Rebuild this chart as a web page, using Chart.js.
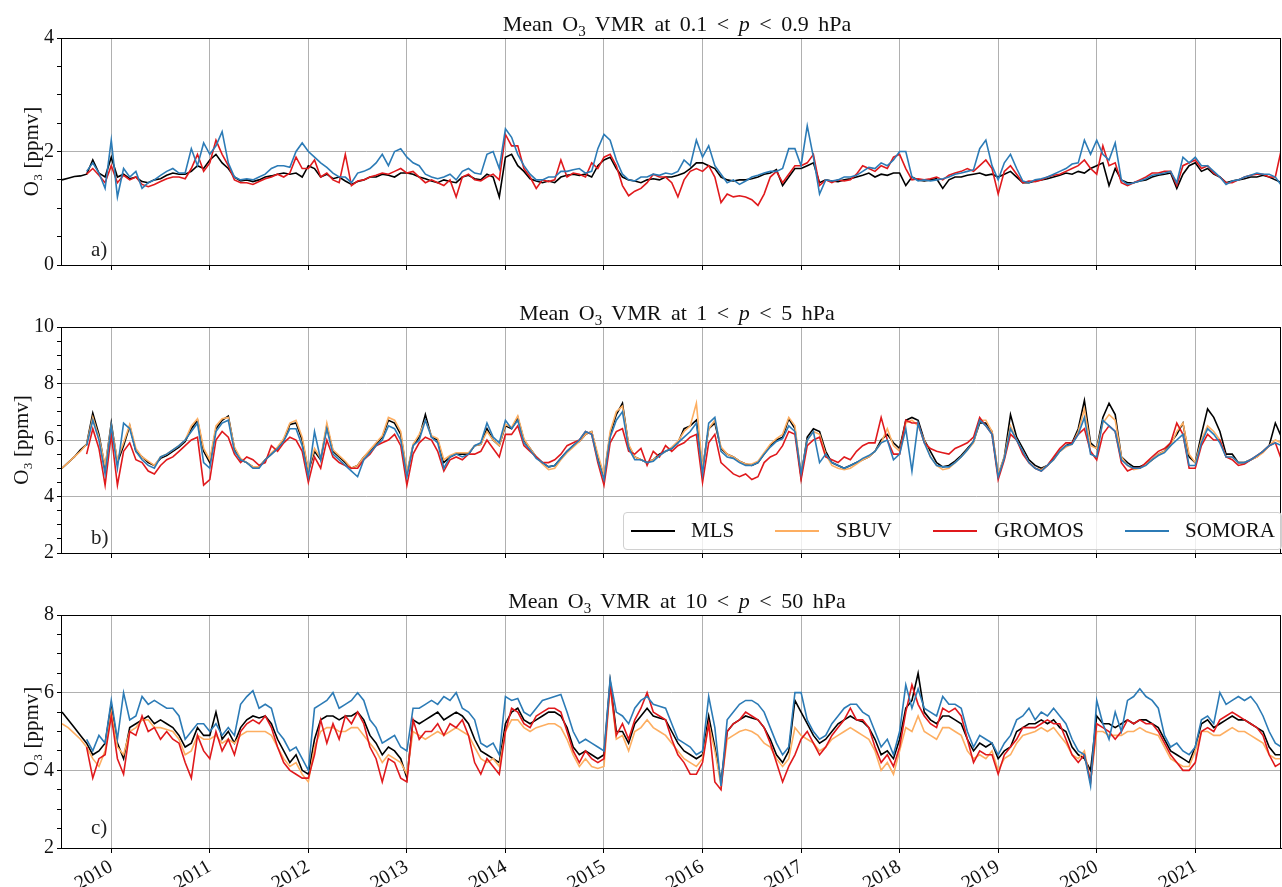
<!DOCTYPE html>
<html lang="en">
<head>
<meta charset="UTF-8" />
<title>Mean O3 VMR</title>
<script src="https://cdn.jsdelivr.net/npm/chart.js"></script>
<style>
  body { margin:0; background:#fff; width:1282px; height:887px; position:relative; overflow:hidden; font-family:'Liberation Serif', serif; color:#111; }
  .panel { position:absolute; left:0; width:1282px; }
  .title { position:absolute; left:61px; width:1232px; text-align:center; font-size:22px; line-height:24px; word-spacing:4px; z-index:2; }
  .letter { position:absolute; left:91px; font-size:21px; line-height:24px; color:#222; z-index:2; }
  #legend { position:absolute; left:623px; top:512px; width:657px; height:36px; border:1px solid #d0d0d0; border-radius:4px; background:rgba(255,255,255,0.8); z-index:3; font-size:21px; }
  #legend .ln { position:absolute; top:17px; width:44px; height:2px; }
  #legend .tx { position:absolute; top:5px; line-height:24px; }
</style>
</head>
<body>
  <div class="panel" style="top:23px;height:257px"><canvas id="chartA" width="1282" height="257"></canvas></div>
  <div class="panel" style="top:312px;height:256px"><canvas id="chartB" width="1282" height="256"></canvas></div>
  <div class="panel" style="top:600px;height:287px"><canvas id="chartC" width="1282" height="287"></canvas></div>

  <div class="title" style="top:12px">Mean O<sub style="font-size:15px">3</sub> VMR at 0.1 &lt; <i>p</i> &lt; 0.9 hPa</div>
  <div class="title" style="top:301px">Mean O<sub style="font-size:15px">3</sub> VMR at 1 &lt; <i>p</i> &lt; 5 hPa</div>
  <div class="title" style="top:589px">Mean O<sub style="font-size:15px">3</sub> VMR at 10 &lt; <i>p</i> &lt; 50 hPa</div>

  <div class="letter" style="top:237px">a)</div>
  <div class="letter" style="top:525px">b)</div>
  <div class="letter" style="top:815px">c)</div>

  <div id="legend">
    <span class="ln" style="left:7px;background:#000"></span><span class="tx" style="left:67px">MLS</span>
    <span class="ln" style="left:151px;background:#fdae61"></span><span class="tx" style="left:212px">SBUV</span>
    <span class="ln" style="left:309px;background:#e0191c"></span><span class="tx" style="left:370px">GROMOS</span>
    <span class="ln" style="left:501px;background:#2c7bb6"></span><span class="tx" style="left:561px">SOMORA</span>
  </div>

<script>
// sampling: every 1/16 year from mid 2009 (one row per year)
const startYear = 2009.5;
const stepYears = 1 / 16;
const yearTicks = [2010, 2011, 2012, 2013, 2014, 2015, 2016, 2017, 2018, 2019, 2020, 2021];

// a) 0.1 < p < 0.9 hPa
const aMLS = [
  1.50, 1.53, 1.56, 1.57, 1.60, 1.85, 1.62, 1.55,
  1.90, 1.55, 1.60, 1.52, 1.55, 1.47, 1.45, 1.50, 1.52, 1.58, 1.62, 1.60, 1.60, 1.65, 1.75, 1.70,
  1.85, 1.95, 1.80, 1.70, 1.55, 1.48, 1.50, 1.47, 1.50, 1.55, 1.57, 1.60, 1.62, 1.60, 1.62, 1.55,
  1.75, 1.70, 1.55, 1.60, 1.52, 1.55, 1.48, 1.42, 1.47, 1.50, 1.55, 1.55, 1.60, 1.58, 1.55, 1.62,
  1.62, 1.60, 1.55, 1.52, 1.48, 1.45, 1.50, 1.47, 1.45, 1.55, 1.58, 1.52, 1.50, 1.60, 1.55, 1.20,
  1.90, 1.95, 1.75, 1.65, 1.52, 1.48, 1.45, 1.48, 1.45, 1.55, 1.58, 1.60, 1.58, 1.60, 1.55, 1.75,
  1.85, 1.90, 1.70, 1.55, 1.50, 1.48, 1.45, 1.50, 1.52, 1.50, 1.55, 1.55, 1.58, 1.62, 1.70, 1.80,
  1.80, 1.75, 1.70, 1.55, 1.50, 1.48, 1.50, 1.50, 1.52, 1.55, 1.60, 1.62, 1.68, 1.40, 1.55, 1.70,
  1.70, 1.75, 1.80, 1.45, 1.50, 1.48, 1.47, 1.50, 1.52, 1.55, 1.58, 1.62, 1.55, 1.60, 1.58, 1.62,
  1.62, 1.40, 1.55, 1.50, 1.48, 1.50, 1.52, 1.35, 1.50, 1.55, 1.55, 1.58, 1.60, 1.62, 1.58, 1.60,
  1.55, 1.60, 1.65, 1.55, 1.45, 1.45, 1.48, 1.50, 1.52, 1.55, 1.58, 1.62, 1.60, 1.65, 1.62, 1.70,
  1.75, 1.80, 1.40, 1.70, 1.50, 1.45, 1.45, 1.48, 1.50, 1.55, 1.58, 1.60, 1.62, 1.35, 1.60, 1.75,
  1.80, 1.65, 1.70, 1.60, 1.55, 1.45, 1.48, 1.50, 1.52, 1.55, 1.55, 1.58, 1.55, 1.50, 1.45
];
const aGROMOS = [
  null, null, null, null, 1.60, 1.70, 1.58, 1.45,
  1.75, 1.45, 1.58, 1.50, 1.55, 1.42, 1.38, 1.42, 1.47, 1.52, 1.55, 1.55, 1.52, 1.70, 1.95, 1.65,
  1.80, 2.20, 1.95, 1.75, 1.50, 1.45, 1.45, 1.42, 1.47, 1.52, 1.55, 1.60, 1.55, 1.62, 1.90, 1.70,
  1.70, 1.85, 1.55, 1.62, 1.50, 1.45, 1.95, 1.40, 1.48, 1.50, 1.55, 1.58, 1.62, 1.60, 1.65, 1.70,
  1.62, 1.65, 1.55, 1.45, 1.50, 1.45, 1.40, 1.50, 1.20, 1.55, 1.60, 1.50, 1.48, 1.55, 1.60, 1.50,
  2.30, 2.10, 2.10, 1.70, 1.55, 1.35, 1.50, 1.47, 1.50, 1.85, 1.55, 1.62, 1.60, 1.55, 1.80, 1.70,
  1.90, 1.95, 1.75, 1.40, 1.22, 1.30, 1.35, 1.45, 1.60, 1.55, 1.55, 1.45, 1.20, 1.50, 1.65, 1.70,
  1.65, 1.75, 1.55, 1.10, 1.25, 1.20, 1.22, 1.20, 1.15, 1.05, 1.25, 1.55, 1.65, 1.45, 1.60, 1.75,
  1.75, 1.80, 1.95, 1.40, 1.50, 1.45, 1.50, 1.48, 1.50, 1.60, 1.75, 1.70, 1.65, 1.75, 1.70, 1.90,
  1.95, 1.70, 1.50, 1.52, 1.50, 1.52, 1.55, 1.50, 1.58, 1.62, 1.65, 1.70, 1.65, 1.75, 1.85, 1.70,
  1.25, 1.65, 1.75, 1.60, 1.45, 1.48, 1.47, 1.50, 1.55, 1.58, 1.60, 1.65, 1.70, 1.75, 1.85, 1.70,
  1.60, 2.10, 1.75, 1.80, 1.45, 1.40, 1.45, 1.50, 1.55, 1.62, 1.62, 1.65, 1.65, 1.40, 1.75, 1.80,
  1.85, 1.70, 1.75, 1.62, 1.55, 1.45, 1.45, 1.50, 1.55, 1.58, 1.60, 1.60, 1.55, 1.55, 2.05
];
const aSOMORA = [
  null, null, null, null, 1.65, 1.80, 1.62, 1.35,
  2.20, 1.20, 1.70, 1.55, 1.65, 1.35, 1.45, 1.50, 1.58, 1.65, 1.70, 1.62, 1.62, 2.05, 1.75, 2.15,
  1.95, 2.10, 2.35, 1.80, 1.55, 1.50, 1.52, 1.50, 1.55, 1.60, 1.70, 1.75, 1.75, 1.72, 2.00, 2.15,
  2.00, 1.90, 1.80, 1.72, 1.62, 1.55, 1.55, 1.45, 1.62, 1.65, 1.70, 1.80, 1.95, 1.75, 2.00, 2.05,
  1.90, 1.80, 1.75, 1.60, 1.55, 1.52, 1.55, 1.60, 1.50, 1.65, 1.70, 1.62, 1.60, 1.95, 2.00, 1.70,
  2.40, 2.25, 1.95, 1.75, 1.60, 1.50, 1.50, 1.55, 1.55, 1.65, 1.65, 1.68, 1.70, 1.62, 1.65, 2.05,
  2.30, 2.20, 1.85, 1.60, 1.50, 1.48, 1.55, 1.55, 1.60, 1.58, 1.62, 1.60, 1.65, 1.85, 1.75, 2.20,
  1.90, 2.10, 1.75, 1.60, 1.45, 1.50, 1.42, 1.48, 1.55, 1.58, 1.62, 1.65, 1.65, 1.70, 2.05, 2.05,
  1.75, 2.45, 1.90, 1.25, 1.50, 1.48, 1.50, 1.55, 1.55, 1.58, 1.65, 1.72, 1.70, 1.80, 1.75, 1.85,
  2.00, 2.00, 1.55, 1.48, 1.50, 1.48, 1.50, 1.52, 1.55, 1.60, 1.62, 1.65, 1.68, 2.05, 2.20, 1.75,
  1.50, 1.80, 1.95, 1.70, 1.48, 1.45, 1.50, 1.52, 1.55, 1.60, 1.65, 1.70, 1.78, 1.80, 2.20, 1.95,
  2.20, 1.95, 1.85, 2.15, 1.50, 1.42, 1.45, 1.48, 1.52, 1.58, 1.60, 1.62, 1.65, 1.45, 1.90, 1.80,
  1.90, 1.75, 1.75, 1.65, 1.55, 1.42, 1.48, 1.50, 1.55, 1.58, 1.62, 1.60, 1.60, 1.55, 1.40
];

// b) 1 < p < 5 hPa
const bMLS = [
  5.00, 5.20, 5.40, 5.65, 5.85, 6.95, 6.20, 5.00,
  6.60, 5.20, 5.80, 6.50, 5.60, 5.40, 5.20, 5.10, 5.35, 5.45, 5.60, 5.75, 5.95, 6.40, 6.70, 5.60,
  5.20, 6.40, 6.70, 6.85, 5.70, 5.30, 5.20, 5.05, 5.05, 5.30, 5.50, 5.70, 6.00, 6.55, 6.60, 6.00,
  4.90, 5.60, 5.30, 6.50, 5.60, 5.40, 5.20, 5.00, 5.10, 5.40, 5.60, 5.85, 6.10, 6.70, 6.60, 6.20,
  4.80, 5.80, 6.10, 6.90, 6.10, 6.00, 5.20, 5.40, 5.50, 5.50, 5.50, 5.80, 5.85, 6.40, 6.00, 5.80,
  6.50, 6.40, 6.80, 6.00, 5.70, 5.40, 5.20, 5.05, 5.10, 5.35, 5.60, 5.80, 5.95, 6.20, 6.30, 5.40,
  4.70, 6.20, 6.90, 7.30, 5.80, 5.40, 5.30, 5.20, 5.30, 5.50, 5.60, 5.70, 5.90, 6.40, 6.50, 6.70,
  5.00, 6.40, 6.60, 5.70, 5.50, 5.40, 5.25, 5.15, 5.10, 5.20, 5.50, 5.80, 6.00, 6.10, 6.75, 6.40,
  4.70, 6.10, 6.40, 6.30, 5.60, 5.20, 5.10, 5.00, 5.10, 5.20, 5.30, 5.40, 5.60, 6.00, 6.20, 5.90,
  5.70, 6.70, 6.80, 6.70, 6.00, 5.60, 5.20, 5.05, 5.10, 5.25, 5.45, 5.70, 5.95, 6.60, 6.60, 6.30,
  4.75, 5.40, 6.90, 6.10, 5.70, 5.30, 5.10, 5.00, 5.10, 5.35, 5.60, 5.80, 5.90, 6.40, 7.40, 5.90,
  5.70, 6.80, 7.30, 6.90, 5.40, 5.20, 5.05, 5.05, 5.15, 5.30, 5.50, 5.60, 5.90, 6.20, 6.60, 5.40,
  5.20, 6.20, 7.10, 6.80, 6.30, 5.50, 5.50, 5.20, 5.20, 5.30, 5.40, 5.60, 5.80, 6.60, 6.10
];
const bSBUV = [
  5.00, 5.20, 5.40, 5.60, 5.85, 6.80, 6.10, 5.10,
  6.50, 5.30, 5.90, 6.55, 5.70, 5.40, 5.25, 5.10, 5.40, 5.50, 5.65, 5.80, 6.00, 6.50, 6.75, 5.70,
  5.30, 6.50, 6.75, 6.80, 5.75, 5.35, 5.20, 5.05, 5.05, 5.30, 5.55, 5.75, 6.05, 6.60, 6.70, 6.10,
  4.95, 5.70, 5.35, 6.60, 5.65, 5.45, 5.25, 5.00, 5.10, 5.40, 5.65, 5.90, 6.15, 6.80, 6.70, 6.30,
  4.85, 5.85, 6.20, 6.70, 6.15, 6.05, 5.30, 5.45, 5.55, 5.55, 5.55, 5.80, 5.85, 6.30, 6.00, 5.80,
  6.55, 6.45, 6.85, 6.05, 5.70, 5.40, 5.15, 4.95, 5.00, 5.30, 5.55, 5.75, 5.95, 6.20, 6.30, 5.50,
  4.75, 6.30, 7.00, 7.20, 5.85, 5.40, 5.30, 5.20, 5.30, 5.45, 5.60, 5.75, 5.95, 6.30, 6.50, 7.30,
  5.00, 6.40, 6.70, 5.75, 5.50, 5.40, 5.25, 5.15, 5.15, 5.25, 5.55, 5.85, 6.05, 6.20, 6.80, 6.50,
  4.75, 6.00, 6.30, 6.20, 5.50, 5.10, 5.00, 4.95, 5.00, 5.15, 5.30, 5.40, 5.60, 5.90, 6.40, 5.80,
  5.60, 6.60, 6.70, 6.50, 6.00, 5.40, 5.10, 4.95, 5.00, 5.20, 5.40, 5.65, 5.90, 6.70, 6.70, 6.30,
  4.80, 5.40, 6.50, 6.00, 5.60, 5.20, 5.00, 4.95, 5.10, 5.30, 5.60, 5.75, 5.85, 6.30, 7.10, 5.80,
  5.70, 6.60, 6.90, 6.70, 5.40, 5.10, 4.95, 5.00, 5.15, 5.30, 5.50, 5.60, 5.80, 6.30, 6.60, 5.50,
  5.20, 6.00, 6.50, 6.30, 6.00, 5.40, 5.40, 5.20, 5.20, 5.30, 5.40, 5.55, 5.80, 6.00, 5.90
];
const bGROMOS = [
  null, null, null, null, 5.50, 6.40, 5.70, 4.40,
  6.20, 4.40, 5.60, 5.90, 5.30, 5.20, 4.90, 4.80, 5.10, 5.30, 5.40, 5.60, 5.80, 6.00, 6.10, 4.40,
  4.60, 6.00, 6.30, 6.10, 5.50, 5.20, 5.40, 5.30, 5.10, 5.20, 5.80, 5.60, 5.90, 6.10, 6.00, 5.60,
  4.50, 5.40, 5.00, 6.00, 5.40, 5.20, 5.10, 5.00, 5.00, 5.30, 5.50, 5.80, 5.90, 6.00, 6.20, 5.80,
  4.40, 5.50, 5.90, 6.10, 6.00, 5.60, 4.90, 5.30, 5.40, 5.30, 5.50, 5.50, 5.60, 6.00, 5.70, 5.40,
  6.20, 6.20, 6.50, 5.80, 5.60, 5.40, 5.20, 5.20, 5.30, 5.50, 5.80, 5.90, 6.00, 6.30, 6.20, 5.20,
  4.40, 5.90, 6.30, 6.40, 5.60, 5.50, 5.70, 5.10, 5.60, 5.40, 5.80, 5.60, 5.80, 5.90, 6.10, 6.20,
  4.50, 5.90, 6.20, 5.20, 5.00, 4.80, 4.70, 4.80, 4.60, 4.70, 5.20, 5.40, 5.50, 5.80, 6.30, 6.20,
  4.60, 5.80, 6.00, 6.10, 5.40, 5.30, 5.20, 5.40, 5.30, 5.60, 5.80, 5.90, 5.90, 6.80, 6.00, 5.50,
  5.50, 6.70, 6.60, 6.60, 5.90, 5.70, 5.60, 5.55, 5.50, 5.70, 5.80, 5.90, 6.10, 6.80, 6.50, 6.20,
  4.60, 5.30, 6.20, 6.00, 5.50, 5.20, 5.00, 4.90, 5.10, 5.40, 5.70, 5.90, 5.90, 6.20, 6.40, 5.60,
  5.30, 6.20, 6.50, 6.30, 5.20, 4.90, 5.00, 5.00, 5.20, 5.40, 5.60, 5.70, 5.90, 6.60, 6.20, 5.00,
  5.00, 5.80, 6.20, 6.00, 6.00, 5.40, 5.30, 5.10, 5.15, 5.30, 5.45, 5.60, 5.80, 5.90, 5.30
];
const bSOMORA = [
  null, null, null, null, 5.80, 6.70, 6.00, 4.80,
  6.50, 5.00, 6.60, 6.40, 5.60, 5.30, 5.10, 5.00, 5.40, 5.50, 5.65, 5.80, 6.00, 6.30, 6.60, 5.20,
  5.00, 6.30, 6.60, 6.70, 5.60, 5.30, 5.20, 5.00, 5.00, 5.30, 5.50, 5.70, 5.95, 6.40, 6.40, 5.80,
  4.70, 6.30, 5.30, 6.40, 5.50, 5.30, 5.10, 4.90, 4.70, 5.30, 5.55, 5.80, 6.00, 6.50, 6.40, 6.00,
  4.70, 5.80, 6.00, 6.70, 6.10, 5.90, 5.00, 5.40, 5.50, 5.40, 5.50, 5.80, 5.90, 6.60, 6.10, 5.90,
  6.70, 6.40, 6.70, 5.90, 5.65, 5.35, 5.20, 5.05, 5.10, 5.35, 5.60, 5.80, 6.00, 6.30, 6.20, 5.30,
  4.60, 6.10, 6.70, 7.00, 5.70, 5.30, 5.30, 5.20, 5.25, 5.45, 5.60, 5.70, 5.90, 6.10, 6.30, 6.60,
  4.80, 6.60, 6.80, 5.60, 5.40, 5.35, 5.20, 5.10, 5.10, 5.20, 5.50, 5.75, 5.95, 6.05, 6.50, 6.30,
  4.80, 6.00, 6.30, 5.20, 5.50, 5.20, 5.10, 5.00, 5.10, 5.20, 5.35, 5.45, 5.60, 5.90, 6.00, 5.30,
  5.50, 6.40, 4.90, 6.60, 5.90, 5.40, 5.10, 5.05, 5.05, 5.20, 5.40, 5.65, 5.95, 6.70, 6.50, 6.20,
  4.70, 5.35, 6.40, 6.00, 5.60, 5.20, 5.00, 4.90, 5.10, 5.30, 5.60, 5.80, 5.85, 6.20, 6.80, 5.50,
  5.40, 6.70, 6.50, 6.30, 5.30, 5.10, 5.00, 5.00, 5.10, 5.30, 5.45, 5.55, 5.80, 6.00, 6.20, 5.10,
  5.10, 5.90, 6.40, 6.20, 5.90, 5.40, 5.40, 5.20, 5.20, 5.30, 5.45, 5.60, 5.80, 5.90, 5.80
];

// c) 10 < p < 50 hPa
const cMLS = [
  5.50, 5.30, 5.10, 4.90, 4.70, 4.40, 4.50, 4.70,
  5.70, 4.70, 4.30, 5.10, 5.20, 5.30, 5.40, 5.20, 5.30, 5.20, 5.10, 4.90, 4.60, 4.70, 5.10, 4.90,
  4.90, 5.50, 4.80, 5.00, 4.70, 5.10, 5.30, 5.40, 5.35, 5.40, 5.20, 4.80, 4.50, 4.20, 4.40, 4.00,
  3.90, 4.80, 5.30, 5.40, 5.40, 5.30, 5.40, 5.40, 5.50, 5.30, 4.90, 4.70, 4.40, 4.60, 4.50, 4.30,
  3.80, 5.30, 5.20, 5.30, 5.40, 5.50, 5.30, 5.40, 5.50, 5.40, 5.20, 4.80, 4.50, 4.40, 4.30, 4.20,
  5.20, 5.50, 5.60, 5.30, 5.20, 5.30, 5.40, 5.50, 5.50, 5.40, 5.10, 4.60, 4.40, 4.50, 4.40, 4.30,
  4.40, 6.30, 5.00, 5.00, 4.70, 5.20, 5.40, 5.60, 5.40, 5.35, 5.30, 5.00, 4.70, 4.50, 4.40, 4.30,
  4.40, 5.40, 4.60, 3.70, 5.00, 5.20, 5.30, 5.40, 5.35, 5.30, 5.10, 4.80, 4.40, 4.20, 4.50, 5.80,
  5.50, 5.20, 4.90, 4.70, 4.80, 5.00, 5.20, 5.30, 5.40, 5.30, 5.25, 5.10, 4.80, 4.40, 4.50, 4.30,
  4.80, 5.60, 5.80, 6.50, 5.50, 5.30, 5.20, 5.40, 5.40, 5.30, 5.20, 4.80, 4.50, 4.70, 4.60, 4.70,
  4.30, 4.50, 4.60, 5.00, 5.10, 5.20, 5.20, 5.30, 5.20, 5.30, 5.10, 5.00, 4.60, 4.40, 4.30, 4.00,
  5.40, 5.20, 5.20, 5.10, 5.20, 5.30, 5.20, 5.30, 5.30, 5.20, 5.10, 4.80, 4.50, 4.40, 4.30, 4.20,
  4.60, 5.20, 5.30, 5.10, 5.20, 5.30, 5.40, 5.30, 5.30, 5.20, 5.10, 5.00, 4.60, 4.40, 4.40
];
const cSBUV = [
  5.20, 5.10, 4.95, 4.80, 4.60, 4.30, 4.10, 4.50,
  5.50, 4.60, 4.40, 5.00, 5.10, 5.30, 5.30, 5.10, 5.10, 5.05, 5.00, 4.80, 4.40, 4.50, 4.90, 4.80,
  4.80, 4.90, 4.70, 4.80, 4.70, 4.90, 5.00, 5.00, 5.00, 5.00, 4.90, 4.60, 4.30, 4.10, 4.20, 3.90,
  3.70, 4.60, 5.00, 5.10, 5.10, 5.00, 5.00, 5.10, 5.10, 4.90, 4.70, 4.50, 4.20, 4.40, 4.30, 4.20,
  3.90, 5.00, 4.90, 4.80, 4.90, 5.00, 4.90, 5.00, 5.10, 5.00, 4.90, 4.60, 4.30, 4.20, 4.30, 4.10,
  5.00, 5.30, 5.30, 5.10, 5.00, 5.10, 5.15, 5.20, 5.20, 5.10, 4.80, 4.40, 4.10, 4.30, 4.10, 4.05,
  4.10, 6.20, 4.80, 4.90, 4.50, 5.00, 5.10, 5.30, 5.10, 5.00, 4.90, 4.70, 4.50, 4.30, 4.20, 4.10,
  4.30, 5.20, 4.50, 3.60, 4.80, 4.90, 5.00, 5.05, 5.00, 4.90, 4.70, 4.60, 4.30, 4.10, 4.30, 5.10,
  4.90, 4.80, 4.70, 4.50, 4.60, 4.80, 4.90, 5.00, 5.10, 5.00, 4.90, 4.80, 4.50, 4.00, 4.20, 3.90,
  4.50, 5.10, 5.00, 5.40, 5.00, 4.90, 4.80, 5.10, 5.10, 5.00, 4.90, 4.50, 4.30, 4.40, 4.30, 4.50,
  4.00, 4.30, 4.40, 4.70, 4.90, 4.95, 5.00, 5.10, 5.00, 5.10, 4.90, 4.70, 4.40, 4.30, 4.50, 3.70,
  5.00, 5.00, 4.90, 4.90, 4.90, 5.00, 5.00, 5.10, 5.00, 4.95, 4.90, 4.60, 4.30, 4.20, 4.10, 4.10,
  4.50, 5.00, 5.00, 4.90, 4.90, 5.00, 5.10, 5.00, 5.00, 4.90, 4.80, 4.70, 4.40, 4.30, 4.30
];
const cGROMOS = [
  null, null, null, null, 4.60, 3.80, 4.30, 4.40,
  5.40, 4.30, 3.90, 5.00, 4.90, 5.40, 5.00, 5.10, 4.80, 5.00, 4.80, 4.70, 4.20, 3.80, 4.90, 4.50,
  4.30, 5.00, 4.50, 4.80, 4.40, 5.00, 5.20, 5.30, 5.20, 5.40, 5.10, 4.60, 4.20, 4.00, 3.90, 3.80,
  3.80, 4.40, 5.30, 4.70, 5.20, 4.80, 5.40, 5.20, 5.50, 5.20, 4.60, 4.30, 3.70, 4.30, 4.20, 3.80,
  3.70, 5.30, 4.80, 5.00, 5.00, 5.20, 4.90, 5.20, 5.10, 5.30, 4.90, 4.20, 3.90, 4.30, 4.10, 3.90,
  5.00, 5.60, 5.50, 5.20, 5.10, 5.40, 5.50, 5.60, 5.60, 5.50, 5.00, 4.50, 4.20, 4.50, 4.30, 4.20,
  4.30, 6.20, 4.90, 5.20, 4.80, 5.30, 5.60, 6.00, 5.50, 5.40, 5.30, 4.80, 4.40, 4.20, 3.90, 3.90,
  4.20, 5.20, 3.70, 3.50, 5.00, 5.20, 5.30, 5.50, 5.40, 5.30, 5.10, 4.70, 4.20, 3.70, 4.10, 4.40,
  4.80, 5.00, 4.70, 4.40, 4.60, 4.90, 5.10, 5.30, 5.60, 5.30, 5.30, 5.10, 4.60, 4.20, 4.40, 4.10,
  4.60, 5.50, 6.20, 5.70, 5.40, 5.20, 5.10, 5.60, 5.50, 5.60, 5.40, 4.80, 4.20, 4.50, 4.40, 4.40,
  3.90, 4.40, 4.60, 4.80, 5.10, 5.10, 5.10, 5.20, 5.30, 5.20, 5.20, 4.80, 4.40, 4.20, 4.40, 3.70,
  5.20, 5.10, 5.00, 4.80, 5.00, 5.30, 5.20, 5.30, 5.20, 5.20, 5.00, 4.70, 4.40, 4.20, 4.00, 4.00,
  4.20, 5.00, 5.10, 5.00, 5.30, 5.40, 5.50, 5.40, 5.30, 5.20, 5.10, 4.90, 4.40, 4.10, 4.20
];
const cSOMORA = [
  null, null, null, null, 4.80, 4.50, 4.90, 4.70,
  5.80, 4.80, 6.00, 5.30, 5.40, 5.90, 5.70, 5.80, 5.70, 5.60, 5.60, 5.40, 4.80, 5.00, 5.20, 5.20,
  5.00, 5.20, 4.90, 5.10, 4.90, 5.70, 5.90, 6.05, 5.60, 5.70, 5.60, 5.00, 4.80, 4.50, 4.60, 4.30,
  4.00, 5.60, 5.70, 5.80, 6.00, 5.60, 5.70, 5.80, 6.00, 5.80, 5.30, 5.10, 4.70, 4.80, 4.90, 4.60,
  4.50, 5.60, 5.60, 5.70, 5.80, 5.70, 5.90, 5.80, 6.00, 5.60, 5.50, 5.30, 4.70, 4.60, 4.70, 4.40,
  5.90, 5.80, 5.85, 5.50, 5.40, 5.60, 5.80, 5.85, 5.90, 5.95, 5.50, 5.00, 4.70, 4.80, 4.70, 4.60,
  4.50, 6.35, 5.50, 5.40, 5.20, 5.60, 5.80, 5.90, 5.70, 5.65, 5.60, 5.20, 4.80, 4.70, 4.60, 4.40,
  4.50, 5.90, 5.10, 3.60, 5.30, 5.50, 5.70, 5.80, 5.80, 5.70, 5.50, 5.10, 4.70, 4.40, 4.60, 6.00,
  6.00, 5.30, 5.00, 4.80, 4.90, 5.20, 5.40, 5.60, 5.70, 5.70, 5.50, 5.40, 5.00, 4.60, 4.80, 4.40,
  5.00, 6.20, 5.60, 6.10, 5.60, 5.50, 5.40, 5.90, 5.70, 5.70, 5.60, 5.00, 4.60, 4.90, 4.80, 4.70,
  4.40, 4.70, 4.90, 5.30, 5.40, 5.60, 5.30, 5.50, 5.40, 5.60, 5.40, 5.20, 4.80, 4.50, 4.40, 3.60,
  5.80, 5.20, 4.80, 5.50, 5.00, 5.80, 5.90, 6.10, 5.90, 5.80, 5.60, 4.90, 4.60, 4.70, 4.50, 4.40,
  4.60, 5.30, 5.40, 5.20, 6.00, 5.70, 5.80, 5.90, 5.80, 5.90, 5.70, 5.40, 5.00, 4.70, 4.60
];

const seriesColors = { MLS: '#000000', SBUV: '#fdae61', GROMOS: '#e0191c', SOMORA: '#2c7bb6' };
const drawOrder = { MLS: 3, SBUV: 2, GROMOS: 1, SOMORA: 0 };
const FONT = "'Liberation Serif', serif";

function toPoints(arr) {
  return arr.map((v, i) => ({ x: startYear + i * stepYears, y: v }));
}

function dataset(name, arr) {
  return {
    label: name,
    data: toPoints(arr),
    borderColor: seriesColors[name],
    backgroundColor: seriesColors[name],
    borderWidth: 1.6,
    pointRadius: 0,
    tension: 0,
    spanGaps: false,
    order: drawOrder[name]
  };
}

// black box around the plot area (top and right sides)
const framePlugin = {
  id: 'frame',
  afterDraw(chart) {
    const a = chart.chartArea, ctx = chart.ctx;
    ctx.save();
    ctx.strokeStyle = '#000';
    ctx.lineWidth = 1;
    ctx.strokeRect(a.left + 0.5, a.top + 0.5, a.right - a.left - 1, a.bottom - a.top);
    ctx.restore();
  }
};

function makeChart(id, series, yMin, yMax, xAxisHeight, titlePad) {
  const showX = xAxisHeight > 20;
  new Chart(document.getElementById(id), {
    type: 'line',
    data: { datasets: series },
    plugins: [framePlugin],
    options: {
      responsive: false,
      animation: false,
      layout: { padding: { top: 14, right: 1, left: 0, bottom: 0 } },
      plugins: { legend: { display: false }, tooltip: { enabled: false } },
      scales: {
        x: {
          type: 'linear',
          min: 2009.49,
          max: 2021.87,
          afterBuildTicks: s => { s.ticks = yearTicks.map(v => ({ value: v })); },
          afterFit: s => { s.height = xAxisHeight; },
          grid: { color: '#b0b0b0', lineWidth: 1, tickColor: '#000', tickLength: 5 },
          border: { color: '#000', width: 1 },
          ticks: {
            display: showX,
            autoSkip: false,
            minRotation: 30,
            maxRotation: 30,
            color: '#111',
            padding: 2,
            font: { family: FONT, size: 20 },
            callback: v => String(v)
          }
        },
        y: {
          min: yMin,
          max: yMax,
          afterFit: s => { s.width = 61; },
          grid: {
            color: c => (c.tick && c.tick.value % 2 === 0) ? '#b0b0b0' : 'rgba(0,0,0,0)',
            tickColor: '#000',
            tickLength: 4
          },
          border: { color: '#000', width: 1 },
          ticks: {
            stepSize: 0.5,
            autoSkip: false,
            color: '#111',
            padding: 3,
            font: { family: FONT, size: 20 },
            callback: v => (v % 2 === 0 ? String(v) : '')
          },
          title: {
            display: true,
            text: 'O₃ [ppmv]',
            color: '#111',
            font: { family: FONT, size: 21 },
            padding: { top: titlePad, bottom: 0 }
          }
        }
      }
    }
  });
}

makeChart('chartA', [
  dataset('MLS', aMLS), dataset('GROMOS', aGROMOS), dataset('SOMORA', aSOMORA)
], 0, 4, 10, 20);

makeChart('chartB', [
  dataset('MLS', bMLS), dataset('SBUV', bSBUV), dataset('GROMOS', bGROMOS), dataset('SOMORA', bSOMORA)
], 2, 10, 10, 10);

makeChart('chartC', [
  dataset('MLS', cMLS), dataset('SBUV', cSBUV), dataset('GROMOS', cGROMOS), dataset('SOMORA', cSOMORA)
], 2, 8, 39, 20);
</script>
</body>
</html>
